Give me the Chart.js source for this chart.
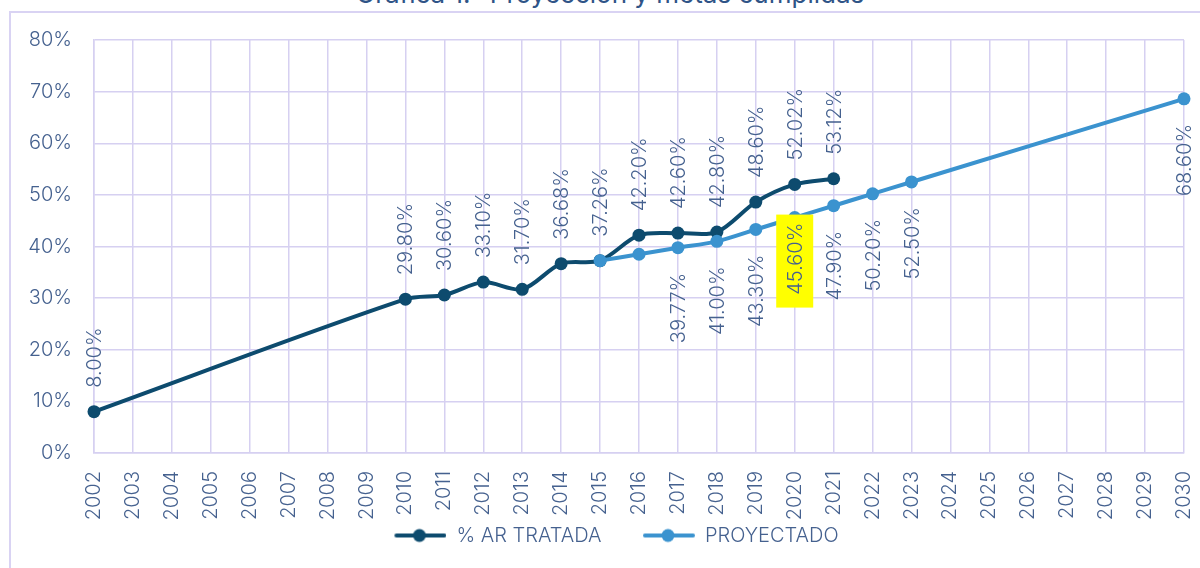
<!DOCTYPE html>
<html>
<head>
<meta charset="utf-8">
<script src="https://cdn.jsdelivr.net/npm/chart.js@4/dist/chart.umd.min.js"></script>
<style>
	html, body { margin: 0; padding: 0; background: #ffffff; }
	#wrap { position: relative; width: 1200px; height: 568px; overflow: hidden; }
	#frame { position: absolute; left: 9px; top: 11px; right: -10px; bottom: -10px; border-left: 2px solid #d9d3f3; border-top: 2px solid #d9d3f3; }
	#title { position: absolute; left: 0; width: 1220px; top: -22px; line-height: 26px; text-align: center; font: 400 26px Inter, sans-serif; color: #2f5487; }
	#box { position: absolute; left: 0; top: 0; width: 1200px; height: 568px; }
</style>
</head>
<body>
<div id="wrap">
	<div id="title">Gráfica 1.- Proyección y metas cumplidas</div>
	<div id="frame"></div>
	<div id="box"><canvas id="chart"></canvas></div>
</div>
<script>

const tratadaYears = [ 2002, 2010, 2011, 2012, 2013, 2014, 2015, 2016, 2017, 2018, 2019, 2020, 2021 ];
const tratadaValues = [ 8.00, 29.80, 30.60, 33.10, 31.70, 36.68, 37.26, 42.20, 42.60, 42.80, 48.60, 52.02, 53.12 ];

const proyectadoYears = [ 2015, 2016, 2017, 2018, 2019, 2020, 2021, 2022, 2023, 2030 ];
const proyectadoValues = [ 37.26, 38.50, 39.77, 41.00, 43.30, 45.60, 47.90, 50.20, 52.50, 68.60 ];

// years of the projection that carry no value label in the original
const proyectadoUnlabelled = [ 2015, 2016 ];
const highlightYear = 2020;

const yearMin = 2002;
const yearMax = 2030;

const textColour = '#45618f';
const gridColour = '#d6d0f1';
const darkBlue = '#0d4b6e';
const lightBlue = '#3b93cf';
const fontFamily = 'Inter, sans-serif';
const fontWeight = 300;

// legend swatch: blank gap on the left (space between items), then line with marker
const swatchGap = 35;

function legendMarker ( colour ) {

	const c = document.createElement( 'canvas' );
	c.width = swatchGap + 56;
	c.height = 16;
	const g = c.getContext( '2d' );
	const x0 = swatchGap;
	g.strokeStyle = colour;
	g.lineWidth = 4;
	g.lineCap = 'round';
	g.beginPath();
	g.moveTo( x0 + 6, 8 );
	g.lineTo( x0 + 54, 8 );
	g.stroke();
	g.fillStyle = colour;
	g.beginPath();
	g.arc( x0 + 29, 8, 6.5, 0, Math.PI * 2 );
	g.fill();
	return c;

}

const valueLabels = {
	id: 'valueLabels',
	afterDatasetsDraw ( chart ) {

		const ctx = chart.ctx;
		ctx.save();
		ctx.font = fontWeight + ' 20px ' + fontFamily;
		ctx.textBaseline = 'middle';

		chart.data.datasets.forEach( ( ds, di ) => {

			const meta = chart.getDatasetMeta( di );

			meta.data.forEach( ( pt, i ) => {

				const raw = ds.data[ i ];
				if ( ds.below && proyectadoUnlabelled.includes( raw.x ) ) return;

				const text = raw.y.toFixed( 2 ) + '%';

				ctx.save();
				ctx.translate( pt.x, pt.y );

				if ( ds.below && raw.x === highlightYear ) {

					ctx.fillStyle = '#ffff00';
					ctx.fillRect( - 18.5, - 3, 37, 93 );
					ctx.rotate( - Math.PI / 2 );
					ctx.textAlign = 'right';
					ctx.fillStyle = textColour;
					ctx.fillText( text, - 5, 1 );

				} else if ( ds.below ) {

					ctx.rotate( - Math.PI / 2 );
					ctx.textAlign = 'right';
					ctx.fillStyle = textColour;
					ctx.fillText( text, - 25, 1 );

				} else {

					ctx.rotate( - Math.PI / 2 );
					ctx.textAlign = 'left';
					ctx.fillStyle = textColour;
					ctx.fillText( text, 24, 1 );

				}

				ctx.restore();

			} );

		} );

		ctx.restore();

	}
};

// the legend sits a little right of the canvas centre in the original
const legendShift = {
	id: 'legendShift',
	afterLayout ( chart ) {

		chart.legend.left += 5;
		chart.legend.right += 5;

	}
};

const config = {
	type: 'line',
	data: {
		datasets: [ {
			label: '% AR TRATADA',
			data: tratadaYears.map( ( x, i ) => ( { x: x, y: tratadaValues[ i ] } ) ),
			borderColor: darkBlue,
			backgroundColor: darkBlue,
			borderWidth: 4,
			pointRadius: 6.5,
			pointHoverRadius: 6.5,
			pointBorderWidth: 0,
			tension: 0.3,
			clip: false,
			below: false,
			order: 1
		}, {
			label: 'PROYECTADO',
			data: proyectadoYears.map( ( x, i ) => ( { x: x, y: proyectadoValues[ i ] } ) ),
			borderColor: lightBlue,
			backgroundColor: lightBlue,
			borderWidth: 4,
			pointRadius: 6.5,
			pointHoverRadius: 6.5,
			pointBorderWidth: 0,
			tension: 0.3,
			clip: false,
			below: true,
			order: 0
		} ]
	},
	options: {
		responsive: true,
		maintainAspectRatio: false,
		animation: false,
		events: [],
		layout: {
			padding: { left: 0, right: 16, top: 40, bottom: 12.5 }
		},
		scales: {
			x: {
				type: 'linear',
				min: yearMin,
				max: yearMax,
				grid: { color: gridColour, lineWidth: 1.5, drawTicks: false },
				border: { color: gridColour, width: 1.5 },
				ticks: {
					stepSize: 1,
					autoSkip: false,
					minRotation: 90,
					maxRotation: 90,
					padding: 18,
					color: textColour,
					font: { family: fontFamily, size: 20, weight: fontWeight },
					callback: v => String( v )
				},
				afterFit: scale => {

					scale.height = 70;
					scale.paddingLeft = 0;
					scale.paddingRight = 0;

				}
			},
			y: {
				min: 0,
				max: 80,
				grid: { color: gridColour, lineWidth: 1.5, drawTicks: false },
				border: { color: gridColour, width: 1.5 },
				ticks: {
					stepSize: 10,
					padding: 22,
					color: textColour,
					font: { family: fontFamily, size: 20, weight: fontWeight },
					callback: v => v + '%'
				},
				afterFit: scale => { scale.width = 94; }
			}
		},
		plugins: {
			tooltip: { enabled: false },
			legend: {
				position: 'bottom',
				labels: {
					usePointStyle: true,
					pointStyleWidth: swatchGap + 56,
					padding: 2.5,
					color: textColour,
					font: { family: fontFamily, size: 20, weight: fontWeight },
					generateLabels: chart => chart.data.datasets.map( ( ds, i ) => ( {
						text: ds.label,
						fontColor: textColour,
						pointStyle: legendMarker( ds.borderColor ),
						datasetIndex: i,
						hidden: false,
						lineWidth: 0,
						strokeStyle: 'transparent',
						fillStyle: 'transparent'
					} ) )
				}
			}
		}
	},
	plugins: [ valueLabels, legendShift ]
};

new Chart( document.getElementById( 'chart' ), config );

</script>
</body>
</html>
